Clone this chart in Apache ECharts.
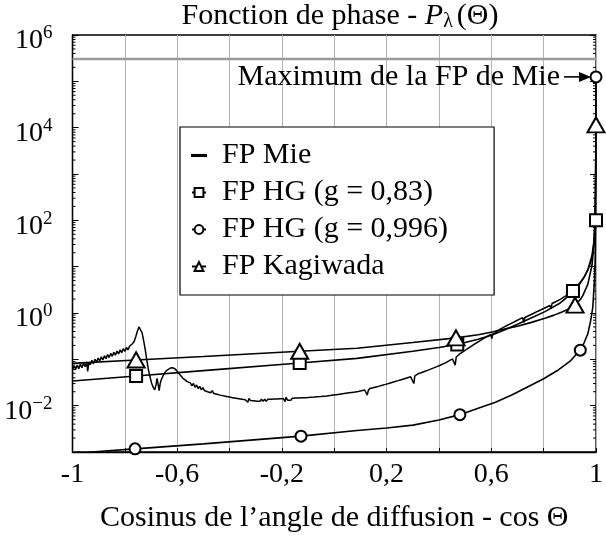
<!DOCTYPE html>
<html><head><meta charset="utf-8">
<script src="https://cdn.jsdelivr.net/npm/echarts@6/dist/echarts.min.js"></script>
<style>html,body{margin:0;padding:0;background:#fff}#c{width:606px;height:543px}</style>
</head><body><div id="c"></div>
<script>
// ---- data ----
const xTickLabels = [-1, -0.6, -0.2, 0.2, 0.6, 1];
const mieMax = 3e5; // grey reference line
const annotationPoint = [1, 124750];

const mie = [
[-1.000,0.058],[-0.994,0.074],[-0.988,0.060],[-0.982,0.075],[-0.976,0.063],[-0.970,0.079],[-0.964,0.066],[-0.958,0.083],[-0.952,0.069],[-0.946,0.088],[-0.942,0.055],[-0.938,0.086],[-0.932,0.076],[-0.926,0.095],[-0.920,0.080],[-0.914,0.100],[-0.908,0.086],[-0.902,0.107],[-0.896,0.092],[-0.890,0.113],[-0.884,0.097],[-0.878,0.120],[-0.872,0.103],[-0.866,0.127],[-0.860,0.109],[-0.854,0.134],[-0.848,0.116],[-0.842,0.142],[-0.836,0.123],[-0.830,0.151],[-0.824,0.131],[-0.818,0.160],[-0.812,0.139],[-0.806,0.170],[-0.800,0.148],[-0.794,0.180],[-0.788,0.160],[-0.782,0.192],[-0.776,0.185],[-0.770,0.22],
[-0.764,0.245],[-0.758,0.31],[-0.752,0.41],[-0.746,0.50],[-0.740,0.47],[-0.734,0.37],[-0.728,0.25],[-0.722,0.16],[-0.716,0.095],[-0.710,0.060],[-0.704,0.042],[-0.698,0.031],[-0.692,0.025],[-0.686,0.022],[-0.681,0.028],[-0.677,0.039],[-0.673,0.029],[-0.669,0.021],[-0.665,0.030],[-0.661,0.036],[-0.655,0.043],[-0.648,0.051],[-0.641,0.057],[-0.634,0.062],[-0.626,0.065],[-0.618,0.066],[-0.610,0.063],[-0.602,0.057],[-0.594,0.050],[-0.586,0.044],[-0.578,0.039],[-0.570,0.036],[-0.562,0.033],[-0.556,0.030],
[-0.550,0.031],[-0.544,0.027],[-0.538,0.030],[-0.532,0.025],[-0.526,0.028],[-0.520,0.0235],[-0.514,0.026],[-0.508,0.022],[-0.502,0.0245],[-0.496,0.0212],[-0.490,0.0232],[-0.484,0.0200],[-0.478,0.0220],[-0.472,0.0190],[-0.466,0.0210],[-0.460,0.0183],[-0.454,0.0200],[-0.448,0.0176],[-0.442,0.0193],[-0.436,0.0169],[-0.430,0.0186],[-0.424,0.0163],[-0.418,0.0179],[-0.412,0.0158],[-0.406,0.0173],[-0.400,0.0153],[-0.394,0.0168],[-0.388,0.0149],[-0.382,0.0163],[-0.376,0.0145],[-0.370,0.0158],[-0.364,0.0141],[-0.358,0.0154],[-0.352,0.0137],[-0.346,0.0150],[-0.340,0.0134],[-0.334,0.0146],[-0.330,0.0118],[-0.326,0.0143],[-0.320,0.0129],[-0.314,0.0141],[-0.308,0.0127],[-0.302,0.0139],[-0.296,0.0125],[-0.290,0.0138],[-0.284,0.0124],[-0.278,0.0137],[-0.272,0.0124],[-0.266,0.0137],[-0.260,0.0124],[-0.254,0.0137],[-0.248,0.0125],[-0.242,0.0138],[-0.236,0.0125],[-0.230,0.0139],[-0.224,0.0126],[-0.218,0.0140],[-0.212,0.0127],[-0.206,0.0141],[-0.200,0.0128],[-0.194,0.0142],[-0.188,0.0122],[-0.184,0.0152],[-0.178,0.0131],[-0.172,0.0144],[-0.166,0.0131],[-0.160,0.0145],[-0.154,0.0132],[-0.148,0.0146],[-0.142,0.0133],[-0.136,0.0147],[-0.130,0.0134],[-0.124,0.0148],[-0.118,0.0135],[-0.112,0.0149],[-0.106,0.0136],[-0.100,0.0150],[-0.094,0.0137],[-0.088,0.0152],[-0.082,0.0139],[-0.076,0.0153],[-0.070,0.0140],[-0.064,0.0155],[-0.058,0.0142],[-0.052,0.0157],[-0.046,0.0144],[-0.040,0.0160],[-0.034,0.0146],[-0.028,0.0162],[-0.022,0.0149],[-0.016,0.0165],[-0.010,0.0152],[-0.004,0.0169],[0.002,0.0156],[0.008,0.0173],[0.014,0.0160],[0.020,0.0177],[0.026,0.0163],[0.032,0.0181],[0.038,0.0167],[0.044,0.0185],[0.050,0.0170],[0.056,0.0189],[0.062,0.0174],[0.068,0.0193],[0.074,0.0178],[0.080,0.0197],[0.086,0.0182],[0.092,0.0203],[0.098,0.0188],[0.104,0.0210],[0.110,0.0195],[0.116,0.0218],[0.122,0.0202],[0.126,0.0170],[0.130,0.0212],[0.136,0.0236],[0.142,0.0218],[0.148,0.0243],[0.154,0.0227],[0.160,0.0254],[0.166,0.0236],[0.172,0.0264],[0.178,0.0246],[0.184,0.0276],[0.190,0.0257],[0.196,0.0288],[0.202,0.0268],[0.208,0.0301],[0.214,0.0281],[0.220,0.0316],[0.226,0.0295],[0.232,0.0331],[0.238,0.0309],[0.244,0.0347],[0.250,0.0324],[0.256,0.0364],[0.262,0.0340],[0.268,0.0382],[0.274,0.0357],[0.280,0.0401],[0.286,0.0374],[0.292,0.0421],[0.298,0.0393],[0.304,0.0300],[0.308,0.0442],[0.314,0.0432],[0.320,0.0487],[0.326,0.0456],[0.332,0.0514],[0.338,0.0481],[0.344,0.0545],[0.350,0.0510],[0.356,0.0578],[0.362,0.0542],[0.368,0.0614],[0.374,0.0576],[0.380,0.0653],[0.386,0.0614],[0.392,0.0696],[0.398,0.0655],[0.404,0.0744],[0.410,0.0702],[0.416,0.0799],[0.422,0.0755],[0.428,0.0862],[0.434,0.0817],[0.440,0.0935],[0.446,0.0888],[0.452,0.102],[0.458,0.0970],[0.462,0.075],[0.466,0.112],[0.472,0.114],[0.478,0.129],[0.484,0.126],[0.490,0.143],[0.496,0.140],[0.502,0.159],[0.508,0.156],[0.514,0.177],[0.520,0.173],[0.526,0.196],[0.532,0.192],[0.538,0.217],[0.544,0.212],[0.550,0.239],[0.556,0.234],[0.562,0.263],[0.568,0.258],[0.574,0.289],[0.580,0.283],[0.586,0.316],[0.592,0.310],[0.598,0.345],[0.602,0.280],[0.606,0.355],[0.612,0.383],[0.618,0.375],[0.624,0.418],[0.630,0.409],[0.636,0.455],[0.642,0.445],[0.648,0.495],[0.654,0.484],[0.660,0.537],[0.666,0.525],[0.672,0.582],[0.678,0.570],[0.684,0.630],[0.690,0.617],[0.696,0.681],[0.702,0.667],[0.708,0.736],[0.714,0.721],[0.720,0.795],[0.724,0.62],[0.728,0.800],[0.734,0.876],[0.740,0.860],[0.746,0.945],[0.752,0.928],[0.758,1.02],[0.764,1.00],[0.770,1.10],[0.776,1.08],[0.782,1.18],[0.788,1.16],[0.794,1.27],[0.800,1.25],[0.806,1.37],[0.812,1.35],[0.818,1.48],[0.824,1.45],[0.828,1.25],[0.832,1.60],[0.838,1.58],[0.844,1.73],[0.850,1.71],[0.856,1.88],[0.862,1.86],[0.868,2.05],[0.874,2.03],[0.880,2.25],[0.886,2.23],[0.892,2.48],[0.898,2.47],[0.904,2.76],[0.910,2.78],[0.916,3.12],[0.922,3.2],[0.928,3.6],[0.934,3.8],[0.940,4.4],[0.946,4.8],[0.952,5.6],[0.958,6.4],[0.964,7.6],[0.970,9.0],[0.976,10.8],[0.982,13.5],[0.986,17],[0.990,24],[0.994,45],[0.997,150],[0.9985,900],[0.9993,8000],[0.9997,40000],[1.000,130000]
];
const hg83 = [[-1,0.034],[-0.757,0.0436],[-0.5,0.057],[-0.132,0.0836],[0.087,0.105],[0.3,0.15],[0.4,0.18],[0.47,0.21],[0.5,0.23],[0.55,0.27],[0.6,0.33],[0.65,0.43],[0.7,0.57],[0.75,0.77],[0.805,1.07],[0.86,1.6],[0.89,2.2],[0.912,3.0],[0.94,4.6],[0.955,6.0],[0.969,8.5],[0.985,18],[0.993,38],[0.998,70],[1,100]];
const hg83Marks = [-0.757,-0.132,0.47,0.912,1];
const hg996 = [[-1,0.00088],[-0.927,0.001],[-0.761,0.00117],[-0.5,0.0015],[-0.127,0.0022],[0.087,0.0029],[0.2,0.0033],[0.301,0.0038],[0.4,0.0049],[0.48,0.0064],[0.55,0.0088],[0.616,0.0118],[0.68,0.0172],[0.742,0.026],[0.8,0.038],[0.856,0.059],[0.9,0.09],[0.92,0.12],[0.94,0.158],[0.955,0.23],[0.969,0.36],[0.98,0.7],[0.988,1.36],[0.994,5],[0.997,15],[0.999,200],[0.9997,2000],[0.9999,20000],[1,124750]];
const hg996Marks = [-0.761,-0.127,0.48,0.94,1];
const kag = [[-1,0.082],[-0.757,0.097],[-0.5,0.115],[-0.132,0.149],[0.087,0.173],[0.3,0.23],[0.465,0.29],[0.55,0.34],[0.604,0.39],[0.65,0.45],[0.7,0.52],[0.75,0.62],[0.805,0.77],[0.84,0.9],[0.87,1.05],[0.9,1.25],[0.92,1.48],[0.94,1.95],[0.95,2.4],[0.969,4.2],[0.985,11],[0.993,35],[0.997,250],[0.999,2000],[1,11500]];
const kagMarks = [-0.757,-0.132,0.465,0.92,1];

const names = ['FP Mie','FP HG (g = 0,83)','FP HG (g = 0,996)','FP Kagiwada'];

// ---- helpers ----
function withMarks(arr, marks){
  return arr.map(p => marks.indexOf(p[0]) >= 0 ? {value:p} : {value:p, symbol:'none'});
}
const minorTicks = [];
for (let d = -3; d < 6; d++) for (let k = 2; k <= 9; k++) minorTicks.push([0, k*Math.pow(10,d)]);

const FONT = '"Liberation Serif", "DejaVu Serif", serif';
const chart = echarts.init(document.getElementById('c'), null, {renderer:'canvas'});
const lineBase = {type:'line', xAxisIndex:0, yAxisIndex:0, smooth:false, showSymbol:true, showAllSymbol:true,
  lineStyle:{color:'#000', width:1.6}, itemStyle:{color:'#000', borderColor:'#000', borderWidth:1.5}, emphasis:{disabled:true}, animation:false, z:3};

chart.setOption({
  animation:false,
  title:{
    text:'{n|Fonction de phase - }{i|P}{sub|λ}{n|(Θ)}', left:335, textAlign:'center', top:-5,
    textStyle:{fontWeight:'normal', rich:{
      n:{fontFamily:FONT, fontSize:30, color:'#000'},
      i:{fontFamily:FONT, fontSize:30, fontStyle:'italic', color:'#000'},
      sub:{fontFamily:FONT, fontSize:20, color:'#000', padding:[12,4,0,0]}
    }}
  },
  grid:{left:72.5, right:4.5, top:35, bottom:91, show:true, borderColor:'#000', borderWidth:1.3, backgroundColor:'transparent'},
  legend:{
    data:[{name:names[0], icon:'path://M0,0L14,0L14,1.1L0,1.1Z'}, names[1], names[2], names[3]],
    orient:'vertical', left:180, top:127, padding:[13,46,13,11], itemGap:6,
    itemWidth:14, itemHeight:11, backgroundColor:'#fff', borderColor:'#000', borderWidth:1.2,
    textStyle:{fontFamily:FONT, fontSize:30, lineHeight:31, color:'#000', padding:[0,0,0,11]}, selectedMode:false
  },
  xAxis:{
    type:'value', min:-1, max:1, interval:0.2,
    axisLine:{show:true, onZero:false, lineStyle:{color:'#000', width:1.3}},
    axisTick:{show:true, inside:true, length:4, lineStyle:{color:'#000'}},
    splitLine:{show:true, lineStyle:{color:'#b4b4b4', width:1}},
    axisLabel:{fontFamily:FONT, fontSize:28, color:'#000', margin:9,
      formatter:v => { const m = xTickLabels.find(t => Math.abs(t-v) < 1e-6); return m === undefined ? '' : String(m).replace('.', ','); }},
    name:'Cosinus de l’angle de diffusion - cos Θ', nameLocation:'middle', nameGap:51,
    nameTextStyle:{fontFamily:FONT, fontSize:30, color:'#000'}
  },
  yAxis:[{
    type:'log', logBase:10, min:1e-3, max:1e6, splitNumber:9,
    axisLine:{show:true, onZero:false, lineStyle:{color:'#000', width:1.3}},
    axisTick:{show:true, inside:true, length:6, lineStyle:{color:'#000'}},
    splitLine:{show:false},
    axisLabel:{margin:20, color:'#000', padding:[12,0,0,0],
      formatter:v => { const e = Math.round(Math.log10(v)); if (e % 2 !== 0) return ''; return '{b|10}{s|' + String(e).replace('-', '−') + '}'; },
      rich:{b:{fontFamily:FONT, fontSize:28, color:'#000'}, s:{fontFamily:FONT, fontSize:19, color:'#000', padding:[0,0,15,0]}}}
  },{
    type:'log', logBase:10, min:1e-3, max:1e6, splitNumber:9, position:'right',
    axisLine:{show:false, onZero:false}, axisTick:{show:true, inside:true, length:6, lineStyle:{color:'#000'}},
    axisLabel:{show:false}, splitLine:{show:false}
  }],
  series:[
    Object.assign({}, lineBase, {name:names[0], symbol:'none', showSymbol:false, data:mie, lineStyle:{color:'#000', width:1.5},
      markLine:{silent:true, symbol:'none', label:{show:false}, animation:false,
        lineStyle:{color:'#9a9a9a', width:2.4, type:'solid'}, data:[{yAxis:mieMax}]}}),
    Object.assign({}, lineBase, {name:names[1], symbol:'emptyRect', symbolSize:12, data:withMarks(hg83, hg83Marks)}),
    Object.assign({}, lineBase, {name:names[2], symbol:'emptyCircle', symbolSize:11, data:withMarks(hg996, hg996Marks)}),
    Object.assign({}, lineBase, {name:names[3], symbol:'emptyTriangle', symbolSize:[17,15], data:withMarks(kag, kagMarks)}),
    {type:'custom', xAxisIndex:0, yAxisIndex:0, silent:true, animation:false, z:2, data:minorTicks, encode:{x:0, y:1},
      renderItem:(params, api) => {
        const y = api.coord([0, api.value(1)])[1];
        const cs = params.coordSys;
        return {type:'group', children:[
          {type:'line', shape:{x1:cs.x, y1:y, x2:cs.x+3, y2:y}, style:{stroke:'#000', lineWidth:1}},
          {type:'line', shape:{x1:cs.x+cs.width, y1:y, x2:cs.x+cs.width-3, y2:y}, style:{stroke:'#000', lineWidth:1}}
        ]};
      }}
  ]
});

const p = chart.convertToPixel({xAxisIndex:0, yAxisIndex:0}, annotationPoint);
chart.setOption({graphic:[
  {type:'text', x:p[0]-36, y:p[1], style:{text:'Maximum de la FP de Mie', font:'30px ' + FONT, fill:'#000', align:'right', verticalAlign:'middle'}, z:10},
  {type:'line', shape:{x1:p[0]-32, y1:p[1], x2:p[0]-14, y2:p[1]}, style:{stroke:'#000', lineWidth:1.6}, z:10},
  {type:'polygon', shape:{points:[[p[0]-5,p[1]],[p[0]-17,p[1]-5],[p[0]-17,p[1]+5]]}, style:{fill:'#000'}, z:10}
]});
</script></body></html>
